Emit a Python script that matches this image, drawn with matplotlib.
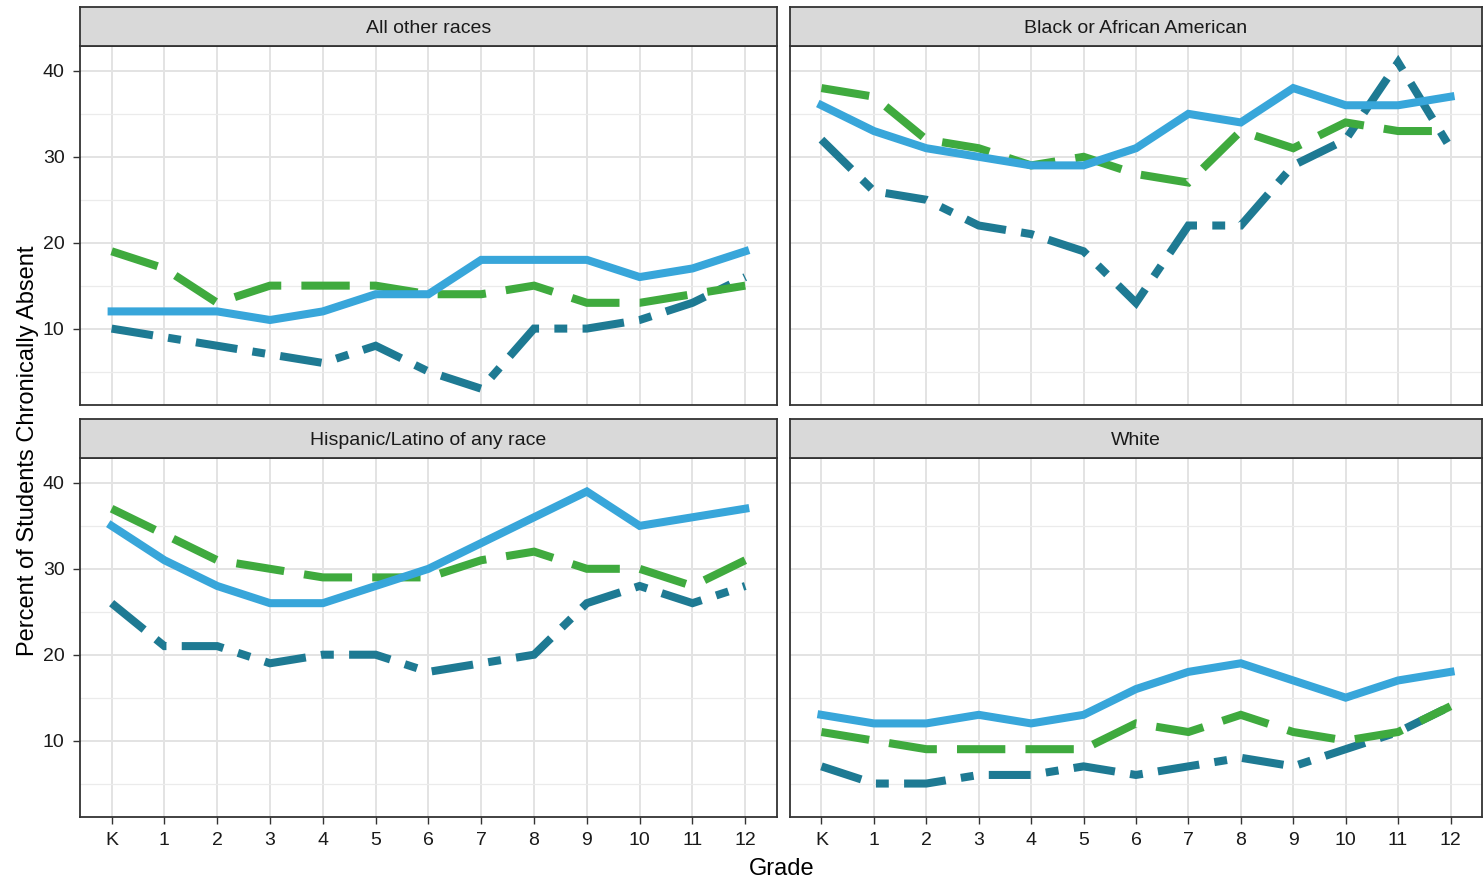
import matplotlib
matplotlib.use('Agg')
import matplotlib.pyplot as plt

plt.rcParams['font.family'] = ['Liberation Sans', 'DejaVu Sans']

# Datos
grados = ['K', '1', '2', '3', '4', '5', '6', '7', '8', '9', '10', '11', '12']
x = list(range(len(grados)))

paneles = ['All other races', 'Black or African American',
           'Hispanic/Latino of any race', 'White']

serie_solida = [
  [12, 12, 12, 11, 12, 14, 14, 18, 18, 18, 16, 17, 19],
  [36, 33, 31, 30, 29, 29, 31, 35, 34, 38, 36, 36, 37],
  [35, 31, 28, 26, 26, 28, 30, 33, 36, 39, 35, 36, 37],
  [13, 12, 12, 13, 12, 13, 16, 18, 19, 17, 15, 17, 18],
]
serie_guiones = [
  [19, 17, 13, 15, 15, 15, 14, 14, 15, 13, 13, 14, 15],
  [38, 37, 32, 31, 29, 30, 28, 27, 33, 31, 34, 33, 33],
  [37, 34, 31, 30, 29, 29, 29, 31, 32, 30, 30, 28, 31],
  [11, 10, 9, 9, 9, 9, 12, 11, 13, 11, 10, 11, 14],
]
serie_puntos = [
  [10, 9, 8, 7, 6, 8, 5, 3, 10, 10, 11, 13, 16],
  [32, 26, 25, 22, 21, 19, 13, 22, 22, 29, 32, 41, 31],
  [26, 21, 21, 19, 20, 20, 18, 19, 20, 26, 28, 26, 28],
  [7, 5, 5, 6, 6, 7, 6, 7, 8, 7, 9, 11, 14],
]

azul = '#38A6DA'
verde = '#3FAA3E'
teal = '#1E7A93'

fig = plt.figure(figsize=(14.83, 8.83), dpi=100)

# posiciones [left, bottom, width, height]
lefts = [0.0539, 0.5327, 0.0539, 0.5327]
widths = [0.470, 0.4666, 0.470, 0.4666]
bottoms = [0.5413, 0.5413, 0.0747, 0.0747]
alto = 0.4066
alto_strip = 0.0442

for i in range(4):
  ax = fig.add_axes([lefts[i], bottoms[i], widths[i], alto])
  ax.plot(x, serie_puntos[i], color=teal, lw=5.8, dashes=(5.2, 1.9, 1.6, 1.9),
          dash_joinstyle='miter', dash_capstyle='butt')
  ax.plot(x, serie_guiones[i], color=verde, lw=5.8, dashes=(6, 2.5),
          dash_joinstyle='miter', dash_capstyle='butt')
  ax.plot(x, serie_solida[i], color=azul, lw=5.8, solid_joinstyle='miter')

  ax.set_xlim(-0.6, 12.6)
  ax.set_ylim(1.1, 42.9)
  ax.set_xticks(x)
  ax.set_yticks([10, 20, 30, 40])
  ax.set_yticks([5, 15, 25, 35], minor=True)
  ax.grid(which='major', color='#E3E3E3', lw=1.4, zorder=0)
  ax.grid(which='minor', axis='y', color='#EBEBEB', lw=0.9, zorder=0)
  ax.set_axisbelow(True)
  for s in ax.spines.values():
    s.set_color('#333333')
    s.set_linewidth(1.3)
  ax.tick_params(which='minor', length=0)
  ax.tick_params(which='major', length=5, width=1, color='#333333',
                 labelsize=14, labelcolor='#1A1A1A', pad=6)

  if i in (0, 1):
    ax.set_xticklabels([])
    ax.tick_params(axis='x', length=0)
  else:
    ax.set_xticklabels(grados)
  if i in (1, 3):
    ax.set_yticklabels([])
    ax.tick_params(axis='y', length=0)

  # tira con el titulo del panel
  st = fig.add_axes([lefts[i], bottoms[i] + alto, widths[i], alto_strip])
  st.set_facecolor('#D9D9D9')
  st.set_xticks([])
  st.set_yticks([])
  for s in st.spines.values():
    s.set_color('#333333')
    s.set_linewidth(1.3)
  st.text(0.5, 0.45, paneles[i], ha='center', va='center', fontsize=14,
          color='#1A1A1A', transform=st.transAxes)

fig.text(0.527, 0.016, 'Grade', ha='center', va='center', fontsize=17)
fig.text(0.019, 0.49, 'Percent of Students Chronically Absent', rotation=90,
         ha='center', va='center', fontsize=17)

plt.savefig('out.png', dpi=100)
